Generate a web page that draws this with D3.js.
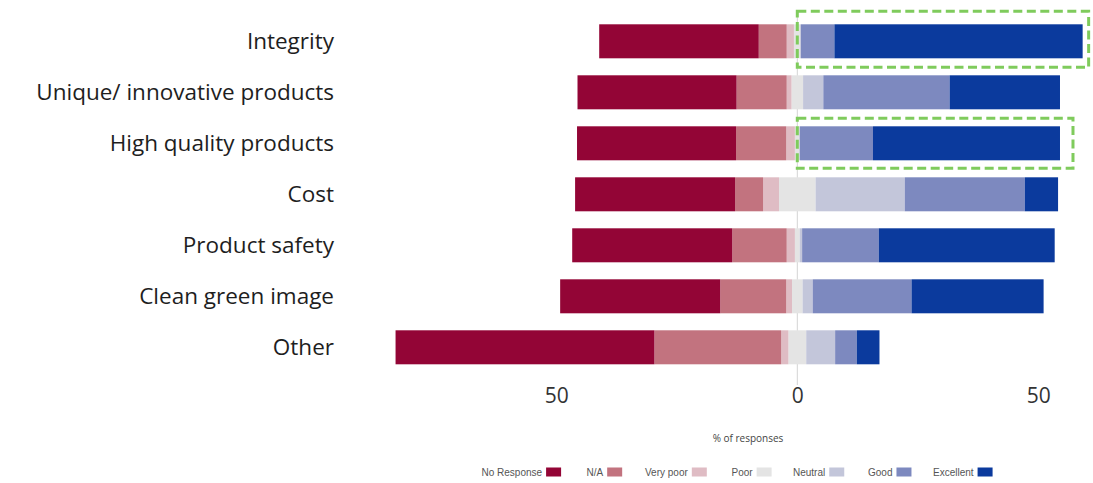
<!DOCTYPE html>
<html>
<head>
<meta charset="utf-8">
<script src="https://cdn.jsdelivr.net/npm/d3@7/dist/d3.min.js"></script>
<style>
  html, body { margin: 0; padding: 0; background: #ffffff; }
  svg { display: block; }
</style>
</head>
<body>
<svg id="chart" width="1093" height="483"></svg>
<script>
// Response categories (rows, top to bottom)
const categories = [
  "Integrity",
  "Unique/ innovative products",
  "High quality products",
  "Cost",
  "Product safety",
  "Clean green image",
  "Other"
];

// Rating levels, from most negative to most positive
const levels = ["No Response", "N/A", "Very poor", "Poor", "Neutral", "Good", "Excellent"];

// Percent of responses per level, one entry per category
const noResponse    = [33.1, 33.0, 33.0, 33.2, 33.2, 33.2, 53.7];
const notApplicable = [ 5.8, 10.4, 10.4,  5.8, 11.3, 13.7, 26.3];
const veryPoor      = [ 1.5,  1.0,  1.8,  3.3,  1.7,  1.2,  1.5];
const poor          = [ 1.4,  2.4,  1.0,  7.6,  1.0,  2.2,  3.7];
const neutral       = [ 0.0,  4.2,  0.0, 18.5,  0.5,  2.1,  6.0];
const good          = [ 7.0, 26.2, 15.2, 24.9, 15.9, 20.5,  4.5];
const excellent     = [51.5, 22.9, 38.8,  6.9, 36.5, 27.4,  4.7];

// Axis ticks (absolute percentages either side of zero)
const tickValues = [-50, 0, 50];

// Rows picked out with a dashed call-out box
const highlighted = ["Integrity", "High quality products"];

const levelColors = ["#930536", "#c2737f", "#dfbcc4", "#e4e4e4", "#c3c6da", "#7d89bf", "#0b3a9d"];

const series = [noResponse, notApplicable, veryPoor, poor, neutral, good, excellent];

// Build diverging segments: "Poor" is split across zero,
// lower levels stack leftwards, higher levels stack rightwards.
const rows = categories.map((cat, i) => {
  const v = series.map(s => s[i]);
  const segs = [];
  const half = v[3] / 2;
  segs.push({ level: 3, x0: -half, x1: half });
  let left = -half;
  for (let k = 2; k >= 0; k--) {
    segs.push({ level: k, x0: left - v[k], x1: left });
    left -= v[k];
  }
  let right = half;
  for (let k = 4; k < 7; k++) {
    segs.push({ level: k, x0: right, x1: right + v[k] });
    right += v[k];
  }
  return { cat, segs, left, right };
});

const svg = d3.select("#chart");
const fontFamily = "'Open Sans', 'Liberation Sans', sans-serif";

const zeroX = 797.3, unit = 4.82;
const x = d3.scaleLinear()
  .domain([-85, 62])
  .range([zeroX - 85 * unit, zeroX + 62 * unit]);

const y = d3.scaleBand()
  .domain(categories)
  .range([15.8, 372.8])
  .paddingInner(1 / 3)
  .paddingOuter(1 / 6);

// zero reference line
svg.append("line")
  .attr("x1", x(0)).attr("x2", x(0))
  .attr("y1", 10).attr("y2", 385)
  .attr("stroke", "#d4d4d4")
  .attr("stroke-width", 1);

// bars
const g = svg.append("g");
rows.forEach(r => {
  g.selectAll(null)
    .data(r.segs.filter(s => s.x1 - s.x0 > 0))
    .join("rect")
    .attr("x", d => x(d.x0))
    .attr("width", d => x(d.x1) - x(d.x0))
    .attr("y", y(r.cat))
    .attr("height", y.bandwidth())
    .attr("fill", d => levelColors[d.level]);
});

// category labels
svg.append("g")
  .selectAll("text")
  .data(categories)
  .join("text")
  .attr("x", 334)
  .attr("y", d => y(d) + y.bandwidth() / 2)
  .attr("dy", "0.36em")
  .attr("text-anchor", "end")
  .attr("font-family", fontFamily)
  .attr("font-size", 22.5)
  .attr("fill", "#1e1e1e")
  .text(d => d);

// x axis (labels only, absolute values)
const axis = d3.axisBottom(x)
  .tickValues(tickValues)
  .tickFormat(d => Math.abs(d))
  .tickSize(0)
  .tickPadding(0);
const ax = svg.append("g")
  .attr("transform", "translate(0,388)")
  .call(axis);
ax.select(".domain").remove();
ax.selectAll("text")
  .attr("font-family", fontFamily)
  .attr("font-size", 21)
  .attr("fill", "#333333")
  .attr("dy", "0.71em");

svg.append("text")
  .attr("x", 748)
  .attr("y", 442)
  .attr("text-anchor", "middle")
  .attr("font-family", fontFamily)
  .attr("font-size", 10)
  .attr("fill", "#444444")
  .text("% of responses");

// dashed call-out boxes around the positive side of selected rows
const boxPad = {
  "Integrity": { top: 13, bottom: 9, right: 6 },
  "High quality products": { top: 8, bottom: 8, right: 13 }
};
rows.filter(r => highlighted.includes(r.cat)).forEach(r => {
  const p = boxPad[r.cat];
  svg.append("rect")
    .attr("x", x(0))
    .attr("y", y(r.cat) - p.top)
    .attr("width", x(r.right) + p.right - x(0))
    .attr("height", y.bandwidth() + p.top + p.bottom)
    .attr("fill", "none")
    .attr("stroke", "#7fcb5c")
    .attr("stroke-width", 3)
    .attr("stroke-dasharray", "9,4.5");
});

// legend: label followed by a swatch
const legendX = [481.5, 586.5, 645, 731.5, 793, 868, 933];
const legend = svg.append("g");
levels.forEach((lv, i) => {
  const t = legend.append("text")
    .attr("x", legendX[i])
    .attr("y", 472)
    .attr("dy", "0.35em")
    .attr("font-family", "'Liberation Sans', Arial, sans-serif")
    .attr("font-size", 10)
    .attr("fill", "#555555")
    .text(lv);
  const w = t.node().getComputedTextLength();
  legend.append("rect")
    .attr("x", legendX[i] + w + 4)
    .attr("y", 467.5)
    .attr("width", 15)
    .attr("height", 9)
    .attr("fill", levelColors[i]);
});
</script>
</body>
</html>
